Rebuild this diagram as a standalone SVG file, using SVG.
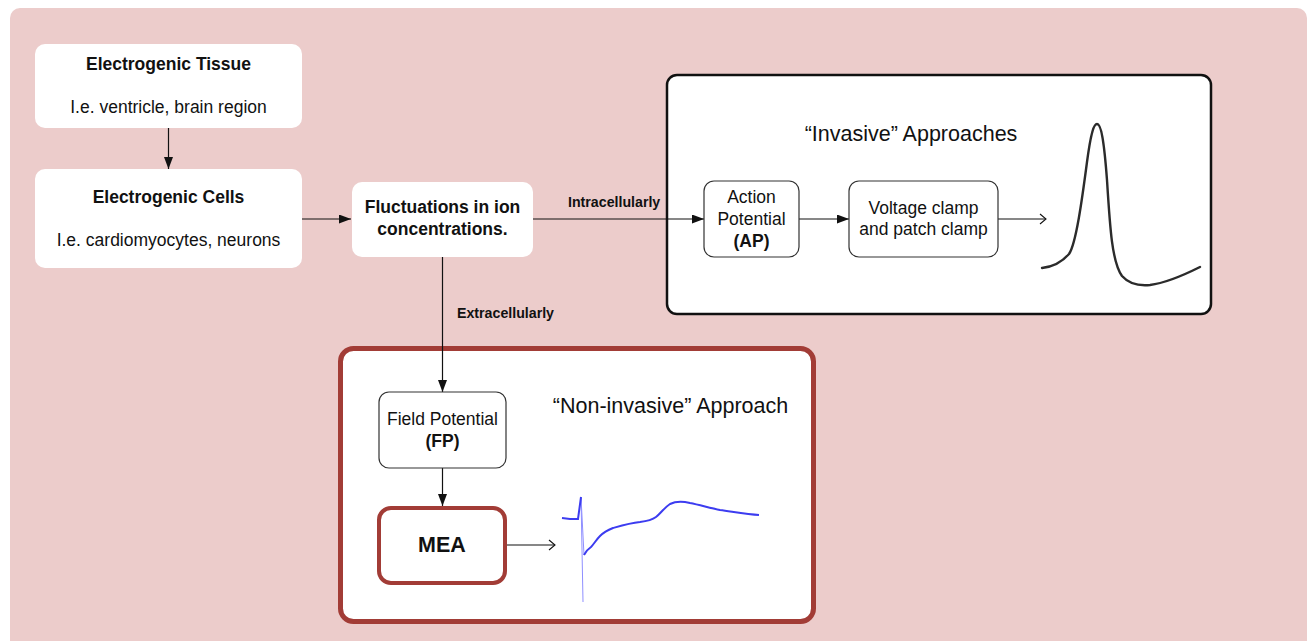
<svg xmlns="http://www.w3.org/2000/svg" width="1311" height="641" viewBox="0 0 1311 641">
  <defs>
    <style>
      text { font-family: "Liberation Sans", Arial, sans-serif; fill: #111; }
      .t { font-size: 17.5px; text-anchor: middle; }
      .b { font-weight: bold; }
      .title { font-size: 21.5px; text-anchor: middle; }
      .lbl { font-size: 14.2px; font-weight: bold; }
      .plain { fill: #fff; stroke: none; }
      .step { fill: #fff; stroke: #333; stroke-width: 1.2; }
      .red { fill: #fff; stroke: #A23C36; }
      .conn { fill: none; stroke: #111; stroke-width: 1.2; }
    </style>
    <marker id="tri" viewBox="0 0 12 9" markerWidth="12" markerHeight="9" refX="12" refY="4.5" orient="auto" markerUnits="userSpaceOnUse">
      <path d="M0,0 L12,4.5 L0,9 z" fill="#111"/>
    </marker>
    <marker id="open" viewBox="0 0 8 12" markerWidth="8" markerHeight="12" refX="7" refY="6" orient="auto" markerUnits="userSpaceOnUse">
      <path d="M1,1 L7,6 L1,11" fill="none" stroke="#111" stroke-width="1.1"/>
    </marker>
  </defs>

  <!-- backdrop -->
  <rect x="10" y="8" width="1297" height="650" rx="10" fill="#ECCCCB"/>

  <!-- approach panels -->
  <g id="invasive-panel">
    <rect x="667" y="75" width="544" height="239" rx="10" fill="#fff" stroke="#111" stroke-width="2.5"/>
    <text class="title" x="911" y="141">“Invasive” Approaches</text>
    <path d="M1042,268 C1052,267 1062,262 1069,254 C1076,244 1082,200 1087,162 C1091,132 1094,124 1097,124 C1101,124 1104,140 1107,180 C1110,228 1112,262 1122,276 C1130,285 1140,286 1150,285 C1166,283 1186,274 1200,267" fill="none" stroke="#2b2b2b" stroke-width="2.4" stroke-linecap="round"/>
  </g>

  <g id="noninvasive-panel">
    <rect x="340.5" y="348.5" width="473" height="273" rx="13" class="red" stroke-width="5"/>
    <text class="title" x="670.5" y="413">“Non-invasive” Approach</text>
    <!-- field potential trace -->
    <path d="M583,602 L581,497 L584,555" fill="none" stroke="#8f8fff" stroke-width="1"/>
    <path d="M562,518 L570,519 L578,519 L581,497" fill="none" stroke="#3c3cf0" stroke-width="2"/>
    <path d="M584,555 C586,551 588,549 591,547 C594,544 596,540 600,536 C604,532 608,530 613,528 C620,526 630,523 640,522 C648,521 652,520 656,517 C660,514 664,508 670,504 C676,501 682,501 690,503 C700,505 710,508 720,510 C735,512 748,514 759,515" fill="none" stroke="#3c3cf0" stroke-width="2"/>
  </g>

  <!-- connectors -->
  <g id="connectors">
    <line class="conn" x1="168.5" y1="128" x2="168.5" y2="169" marker-end="url(#tri)"/>
    <line class="conn" x1="302" y1="219" x2="351" y2="219" marker-end="url(#tri)"/>
    <line class="conn" x1="533" y1="219" x2="704" y2="219" marker-end="url(#tri)"/>
    <line class="conn" x1="442.5" y1="257" x2="442.5" y2="392" marker-end="url(#tri)"/>
    <line class="conn" x1="799" y1="219" x2="849" y2="219" marker-end="url(#tri)"/>
    <line class="conn" x1="998" y1="219" x2="1046" y2="219" marker-end="url(#open)"/>
    <line class="conn" x1="442.5" y1="468" x2="442.5" y2="506" marker-end="url(#tri)"/>
    <line class="conn" x1="507" y1="545" x2="555" y2="545" marker-end="url(#open)"/>
    <text class="lbl" x="568" y="207">Intracellularly</text>
    <text class="lbl" x="457" y="318">Extracellularly</text>
  </g>

  <!-- nodes -->
  <g id="tissue">
    <rect class="plain" x="35" y="44" width="267" height="84" rx="10"/>
    <text class="t b" x="168.5" y="70">Electrogenic Tissue</text>
    <text class="t" x="168.5" y="113">I.e. ventricle, brain region</text>
  </g>

  <g id="cells">
    <rect class="plain" x="35" y="169" width="267" height="99" rx="10"/>
    <text class="t b" x="168.5" y="203">Electrogenic Cells</text>
    <text class="t" x="168.5" y="246">I.e. cardiomyocytes, neurons</text>
  </g>

  <g id="fluctuations">
    <rect class="plain" x="352" y="182" width="181" height="75" rx="10"/>
    <text class="t b" x="442.5" y="213">Fluctuations in ion</text>
    <text class="t b" x="442.5" y="235">concentrations.</text>
  </g>

  <g id="action-potential">
    <rect class="step" x="704" y="181" width="95" height="76" rx="10"/>
    <text class="t" x="751.5" y="203">Action</text>
    <text class="t" x="751.5" y="225">Potential</text>
    <text class="t b" x="751.5" y="247">(AP)</text>
  </g>

  <g id="clamp">
    <rect class="step" x="849" y="181" width="149" height="76" rx="10"/>
    <text class="t" x="923.5" y="214">Voltage clamp</text>
    <text class="t" x="923.5" y="235">and patch clamp</text>
  </g>

  <g id="field-potential">
    <rect class="step" x="379" y="392" width="127" height="76" rx="10"/>
    <text class="t" x="442.5" y="425">Field Potential</text>
    <text class="t b" x="442.5" y="447">(FP)</text>
  </g>

  <g id="mea">
    <rect class="red" x="379" y="508" width="126" height="75" rx="12" stroke-width="4"/>
    <text class="title b" x="442" y="552">MEA</text>
  </g>
</svg>
